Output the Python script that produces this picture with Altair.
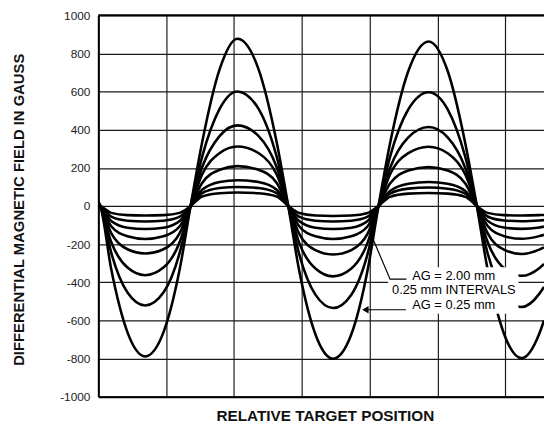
import altair as alt
import pandas as pd

# Relative target position (grid units) sampled along the curves
positions = [0, 0.03, 0.19, 0.43, 0.69, 0.96, 1.20, 1.36, 1.53, 1.79, 2.05, 2.36, 2.63,
             2.80, 2.96, 3.20, 3.46, 3.73, 3.97, 4.13, 4.30, 4.57, 4.87, 5.15, 5.41,
             5.58, 5.74, 5.98, 6.24, 6.50, 6.57]

air_gaps = ["0.25", "0.50", "0.75", "1.00", "1.25", "1.50", "1.75", "2.00"]

ag_025 = [25, 0, -331, -663, -789, -663, -331, 0, 333, 719, 877, 719, 333, 0, -336, -673, -801, -673, -336, 0, 328, 708, 863, 708, 328, 0, -335, -670, -798, -670, -600]
ag_050 = [20, 0, -245, -454, -522, -454, -245, 0, 258, 511, 601, 511, 258, 0, -251, -465, -535, -465, -251, 0, 257, 507, 597, 507, 257, 0, -249, -461, -530, -461, -424]
ag_075 = [16, 0, -189, -323, -363, -323, -189, 0, 203, 368, 423, 368, 203, 0, -192, -328, -369, -328, -192, 0, 199, 360, 414, 360, 199, 0, -190, -326, -366, -326, -304]
ag_100 = [12, 0, -142, -227, -249, -227, -142, 0, 165, 278, 312, 278, 165, 0, -145, -231, -254, -231, -145, 0, 165, 277, 311, 277, 165, 0, -144, -229, -252, -229, -217]
ag_125 = [10, 0, -106, -159, -173, -159, -106, 0, 121, 190, 209, 190, 121, 0, -106, -159, -173, -159, -106, 0, 118, 186, 204, 186, 118, 0, -105, -158, -172, -158, -151]
ag_150 = [8, 0, -79, -114, -121, -114, -79, 0, 85, 126, 135, 126, 85, 0, -79, -114, -121, -114, -79, 0, 79, 117, 126, 117, 79, 0, -78, -113, -120, -113, -108]
ag_175 = [6, 0, -56, -77, -81, -77, -56, 0, 67, 94, 100, 94, 67, 0, -56, -77, -81, -77, -56, 0, 65, 91, 97, 91, 65, 0, -55, -76, -80, -76, -74]
ag_200 = [5, 0, -36, -48, -50, -48, -36, 0, 50, 67, 71, 67, 50, 0, -37, -50, -52, -50, -37, 0, 48, 65, 68, 65, 48, 0, -36, -48, -50, -48, -47]

curves = [ag_025, ag_050, ag_075, ag_100, ag_125, ag_150, ag_175, ag_200]

y_ticks = list(range(-1000, 1001, 200))
x_grid = [0, 1, 2, 3, 4, 5, 6]

annot_lines = ["AG = 2.00 mm", "0.25 mm INTERVALS", "AG = 0.25 mm"]
annot_y = [-369, -440, -521]
annot_x = 5.24

FONT = "Liberation Sans"
X_DOM = [0, 6.57]
Y_DOM = [-1000, 1000]

rows = []
for ag, vals in zip(air_gaps, curves):
    for p, v in zip(positions, vals):
        rows.append({"pos": p, "field": v, "ag": ag})
df = pd.DataFrame(rows)

xs = alt.Scale(domain=X_DOM, nice=False, zero=False)
ys = alt.Scale(domain=Y_DOM, nice=False, zero=False)

x_axis = alt.Axis(
    values=x_grid, labels=False, ticks=False, grid=True,
    gridColor="#1a1a1a", gridWidth=1.2, domainColor="black", domainWidth=2,
    title="RELATIVE TARGET POSITION", titleFont=FONT, titleFontSize=15.5,
    titleFontWeight="bold", titleColor="#111", titleX=229.5, titleY=24.3,
    titleBaseline="alphabetic")
y_axis = alt.Axis(
    values=y_ticks, labelExpr="'' + datum.value", ticks=False, labelPadding=8.5,
    labelFont=FONT, labelFontSize=12, labelColor="#222", grid=True,
    gridColor="#1a1a1a", gridWidth=1.2, domainColor="black", domainWidth=2,
    title="DIFFERENTIAL MAGNETIC FIELD IN GAUSS", titleFont=FONT,
    titleFontSize=15, titleFontWeight="bold", titleColor="#111",
    titleX=-80.5, titleY=196.5, titleBaseline="middle", titleAngle=270,
    titleAlign="center")


def X(f):
    return alt.X(f, scale=xs, axis=x_axis, title="RELATIVE TARGET POSITION")


def Y(f):
    return alt.Y(f, scale=ys, axis=y_axis, title="DIFFERENTIAL MAGNETIC FIELD IN GAUSS")


lines = alt.Chart(df).mark_line(
    color="black", strokeWidth=2.6, interpolate="monotone", clip=True
).encode(x=X("pos:Q"), y=Y("field:Q"), detail="ag:N")

box_df = pd.DataFrame([{"x1": 4.272, "x2": 6.193, "y1": -321, "y2": -565}])
box = alt.Chart(box_df).mark_rect(color="white").encode(
    x=X("x1:Q"), x2="x2:Q", y=Y("y1:Q"), y2="y2:Q",
)

leader_df = pd.DataFrame([
    {"seg": "a", "i": 0, "lx": 4.542, "ly": -384},
    {"seg": "a", "i": 1, "lx": 4.301, "ly": -384},
    {"seg": "a", "i": 2, "lx": 4.054, "ly": -177},
    {"seg": "b", "i": 0, "lx": 4.534, "ly": -544},
    {"seg": "b", "i": 1, "lx": 3.967, "ly": -544},
])
leaders = alt.Chart(leader_df).mark_line(color="black", strokeWidth=1.2).encode(
    x=X("lx:Q"), y=Y("ly:Q"), detail="seg:N", order="i:Q",
)

arrow_df = pd.DataFrame([{"ax": 3.937, "ay": -544}])
arrow = alt.Chart(arrow_df).mark_point(
    shape="triangle-left", filled=True, size=55, color="black", opacity=1
).encode(x=X("ax:Q"), y=Y("ay:Q"))

text_df = pd.DataFrame({"t": annot_lines, "ty": annot_y, "tx": [annot_x] * 3})
texts = alt.Chart(text_df).mark_text(
    font=FONT, fontSize=13, color="black", align="center", baseline="middle"
).encode(x=X("tx:Q"), y=Y("ty:Q"), text="t:N")

top = alt.Chart(pd.DataFrame({"v": [1000]})).mark_rule(color="black", strokeWidth=2).encode(
    y=Y("v:Q")
)

chart = alt.layer(lines, box, leaders, arrow, texts, top).properties(
    width=451.5, height=386.3,
    autosize=alt.AutoSizeParams(type="none"),
    padding={"left": 91.5, "top": 4.7, "right": 0, "bottom": 28},
    background="white",
).configure_view(stroke=None)

chart.save("out.html", embed_options={"renderer": "svg", "actions": False})
